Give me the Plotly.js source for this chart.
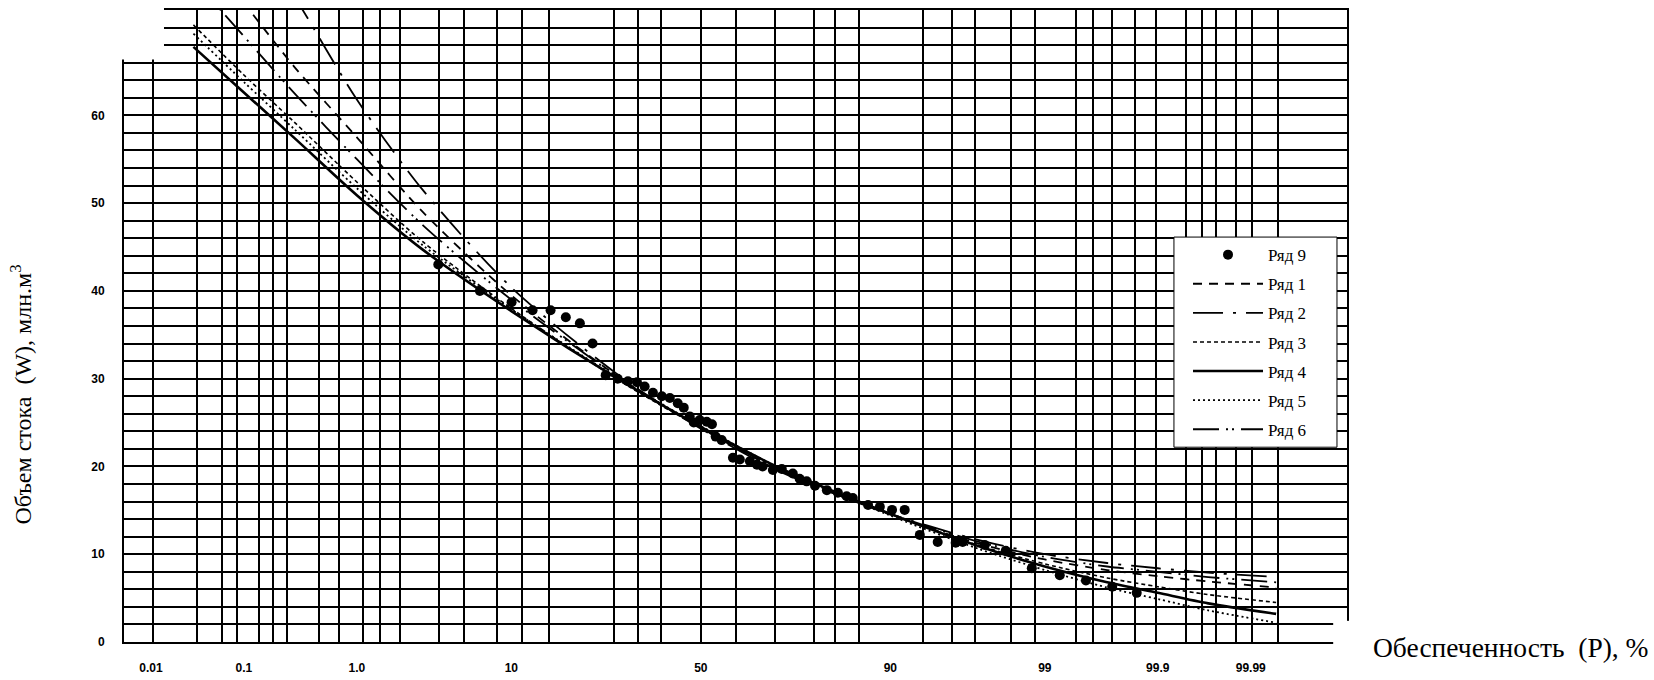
<!DOCTYPE html>
<html>
<head>
<meta charset="utf-8">
<script src="https://cdn.plot.ly/plotly-3.0.1.min.js"></script>
<style>
html,body{margin:0;padding:0;background:#fff;}
#chart{width:1654px;height:680px;}
</style>
</head>
<body>
<div id="chart"></div>
<script>
// ---------- DATA ----------
// Vertical grid lines of the probability paper (P, %)
const gridP = [0.0107, 0.0325, 0.0598, 0.0845, 0.140, 0.189, 0.255, 0.49, 0.722, 1.12, 1.50, 2.09,
  3.84, 5.46, 8.43, 11.28, 15.24, 27.9, 33.6, 39.5, 50, 59.5, 69.15, 77.8, 81.75, 85.7,
  93.36, 95.5, 96.83, 98.19, 98.80, 99.446, 99.600, 99.729, 99.835, 99.895, 99.948,
  99.965, 99.9756, 99.9851, 99.99035, 99.99525];
// Labelled probabilities on the x axis
const tickP = [0.01, 0.1, 1, 10, 50, 90, 99, 99.9, 99.99];
const tickText = ['0.01', '0.1', '1.0', '10', '50', '90', '99', '99.9', '99.99'];

// Ряд 9 — observed values (P %, W mln m3)
const obsP = [3.79, 6.76, 10.03, 12.76, 15.48, 18.06, 20.67, 23.2, 26.0, 28.7, 31.1, 33.3, 35.2,
  37.3, 39.6, 41.7, 43.8, 45.4, 47.0, 48.1, 49.7, 51.6, 53.0, 54.0, 55.6, 58.6, 60.4, 63.0,
  64.8, 66.2, 68.7, 70.8, 73.3, 74.8, 76.3, 78.0, 80.3, 82.3, 83.8, 84.8, 87.1, 88.7, 90.2,
  91.6, 93.07, 94.54, 95.76, 96.17, 97.26, 98.04, 98.74, 99.24, 99.54, 99.73, 99.84];
const obsW = [43.0, 40.0, 38.7, 37.8, 37.8, 37.0, 36.3, 34.0, 30.4, 30.0, 29.7, 29.6, 29.1,
  28.4, 28.0, 27.8, 27.2, 26.7, 25.7, 25.0, 25.3, 25.1, 24.8, 23.4, 23.0, 21.0, 20.8, 20.6,
  20.2, 20.0, 19.6, 19.7, 19.2, 18.6, 18.3, 17.8, 17.3, 17.0, 16.6, 16.4, 15.6, 15.4, 15.05,
  15.05, 12.2, 11.4, 11.3, 11.4, 11.05, 10.4, 8.4, 7.6, 7.0, 6.3, 5.6];

// Fitted curves Ряд 1 … Ряд 6 (P %, W mln m3)
const curveP = [0.03, 0.1, 0.3, 1, 3, 10, 30, 50, 70, 90, 97, 99, 99.7, 99.9, 99.97, 99.995];
const row1W = [80.0, 72.8, 65.5, 57.5, 49.0, 39.5, 29.8, 24.4, 19.6, 14.5, 11.2, 9.4, 8.2, 7.5, 6.9, 6.2];
const row2W = [88.0, 82.0, 73.5, 61.8, 51.5, 40.4, 30.0, 24.3, 19.5, 14.6, 11.6, 10.0, 9.0, 8.4, 7.9, 7.4];
const row3W = [70.3, 64.6, 59.2, 52.4, 45.6, 38.0, 29.5, 24.4, 19.8, 14.6, 11.0, 8.9, 7.3, 6.3, 5.4, 4.5];
const row4W = [67.8, 62.6, 57.4, 50.9, 44.7, 37.7, 29.6, 24.5, 19.9, 14.6, 10.9, 8.6, 6.8, 5.6, 4.4, 3.2];
const row5W = [69.3, 63.8, 58.4, 51.7, 45.2, 37.9, 29.7, 24.6, 19.9, 14.4, 10.6, 8.2, 6.2, 4.9, 3.6, 2.2];
const row6W = [75.5, 69.0, 62.5, 55.0, 47.5, 39.0, 29.8, 24.4, 19.7, 14.6, 11.4, 9.7, 8.6, 8.0, 7.4, 6.8];

// ---------- probability-paper scale (normal quantile) ----------
function probit(pp) {
  const p = pp / 100;
  const a = [-3.969683028665376e+01, 2.209460984245205e+02, -2.759285104469687e+02, 1.383577518672690e+02, -3.066479806614716e+01, 2.506628277459239e+00];
  const b = [-5.447609879822406e+01, 1.615858368580409e+02, -1.556989798598866e+02, 6.680131188771972e+01, -1.328068155288572e+01];
  const c = [-7.784894002430293e-03, -3.223964580411365e-01, -2.400758277161838e+00, -2.549732539343734e+00, 4.374664141464968e+00, 2.938163982698783e+00];
  const d = [7.784695709041462e-03, 3.224671290700398e-01, 2.445134137142996e+00, 3.754408661907416e+00];
  const pl = 0.02425, ph = 1 - pl;
  let q, r;
  if (p < pl) {
    q = Math.sqrt(-2 * Math.log(p));
    return (((((c[0]*q+c[1])*q+c[2])*q+c[3])*q+c[4])*q+c[5]) / ((((d[0]*q+d[1])*q+d[2])*q+d[3])*q+1);
  }
  if (p > ph) {
    q = Math.sqrt(-2 * Math.log(1 - p));
    return -(((((c[0]*q+c[1])*q+c[2])*q+c[3])*q+c[4])*q+c[5]) / ((((d[0]*q+d[1])*q+d[2])*q+d[3])*q+1);
  }
  q = p - 0.5; r = q * q;
  return (((((a[0]*r+a[1])*r+a[2])*r+a[3])*r+a[4])*r+a[5])*q / (((((b[0]*r+b[1])*r+b[2])*r+b[3])*r+b[4])*r+1);
}
const Z = arr => arr.map(probit);

const FONT_SERIF = 'Liberation Serif, Times New Roman, serif';
const FONT_SANS = 'Liberation Sans, Arial, sans-serif';

function curve(name, w, dash, width) {
  return {
    type: 'scatter', mode: 'lines', name: name, legendgroup: name,
    x: Z(curveP), y: w,
    line: {color: '#000', width: width, dash: dash, shape: 'spline', smoothing: 0.8},
    hoverinfo: 'skip'
  };
}

const traces = [
  {type: 'scatter', mode: 'markers', name: 'Ряд 9', legendgroup: 'Ряд 9',
   x: Z(obsP), y: obsW, marker: {color: '#000', size: 10}},
  curve('Ряд 1', row1W, '9px,7px', 1.8),
  curve('Ряд 2', row2W, '30px,10px,3px,10px', 1.8),
  curve('Ряд 3', row3W, '4px,3px', 1.6),
  curve('Ряд 4', row4W, 'solid', 2.6),
  curve('Ряд 5', row5W, '2px,3px', 1.8),
  curve('Ряд 6', row6W, '26px,7px,2px,4px,2px,7px', 1.8)
];

const xMin = -3.901, xMax = 4.370;

const layout = {
  width: 1654, height: 680,
  margin: {l: 124, r: 307, t: 10, b: 38.3},
  paper_bgcolor: '#fff', plot_bgcolor: '#fff',
  showlegend: true,
  xaxis: {
    range: [xMin, xMax], type: 'linear',
    tickmode: 'array', tickvals: Z(tickP), ticktext: tickText,
    showgrid: false, zeroline: false,
    showline: true, mirror: true, linecolor: '#000', linewidth: 2,
    ticks: '', ticklabelstandoff: 14,
    tickfont: {family: FONT_SANS, size: 12, color: '#000', weight: 'bold'},
    minor: {tickmode: 'array', tickvals: Z(gridP), showgrid: true, gridcolor: '#000', gridwidth: 2, ticks: ''}
  },
  yaxis: {
    range: [0, 72], type: 'linear',
    tickmode: 'array', tickvals: [0, 10, 20, 30, 40, 50, 60],
    showgrid: true, gridcolor: '#000', gridwidth: 2,
    zeroline: false,
    showline: true, mirror: true, linecolor: '#000', linewidth: 2,
    ticks: '', ticklabelstandoff: 15,
    tickfont: {family: FONT_SANS, size: 12, color: '#000', weight: 'bold'},
    minor: {dtick: 2, showgrid: true, gridcolor: '#000', gridwidth: 2, ticks: ''}
  },
  legend: {
    x: 0.870, y: 0.6407, xanchor: 'left', yanchor: 'top',
    bgcolor: 'rgba(0,0,0,0)', borderwidth: 0,
    font: {family: FONT_SERIF, size: 17, color: '#000'},
    traceorder: 'grouped', tracegroupgap: 4, itemwidth: 70
  },
  shapes: [
    {type: 'rect', xref: 'paper', yref: 'paper', x0: -0.01, x1: 0.0327, y0: 0.9215, y1: 1.02,
     fillcolor: '#fff', line: {width: 0}, layer: 'above'},
    {type: 'rect', xref: 'paper', yref: 'paper', x0: 0.9887, x1: 1.01, y0: -0.02, y1: 0.0335,
     fillcolor: '#fff', line: {width: 0}, layer: 'above'},
    // legend frame
    {type: 'rect', xref: 'paper', yref: 'paper', x0: 0.8585, x1: 0.9918, y0: 0.3082, y1: 0.6407,
     fillcolor: '#fff', line: {color: '#000', width: 1}, layer: 'above'}
  ],
  annotations: [
    {xref: 'paper', yref: 'paper', x: 1.0196, y: 0.0, xanchor: 'left', yanchor: 'middle',
     yshift: -5, text: 'Обеспеченность\u00a0\u00a0(P),\u00a0%', showarrow: false,
     font: {family: FONT_SERIF, size: 27.5, color: '#000'}},
    {xref: 'paper', yref: 'paper', x: -0.084, y: 0.392, xanchor: 'center', yanchor: 'middle',
     textangle: -90, text: 'Объем стока\u00a0\u00a0(W), млн.м<sup>3</sup>', showarrow: false,
     font: {family: FONT_SERIF, size: 24, color: '#000'}}
  ]
};

Plotly.newPlot('chart', traces, layout, {displayModeBar: false, staticPlot: true});
</script>
</body>
</html>
